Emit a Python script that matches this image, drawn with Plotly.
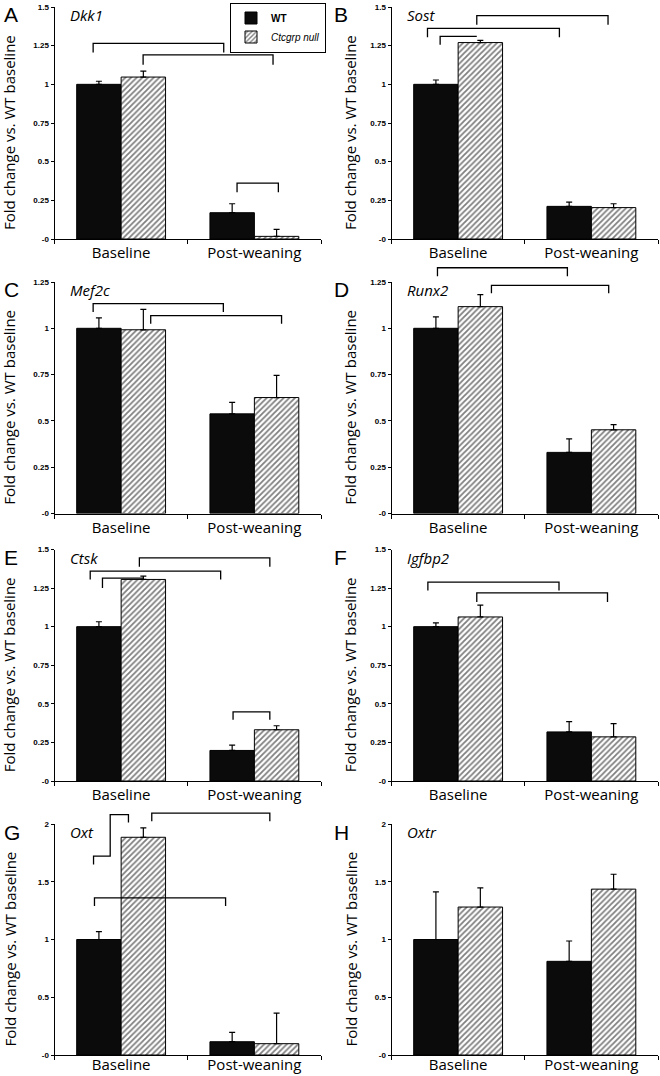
import plotly.graph_objects as go

# ---------------- data ----------------
groups = ["Baseline", "Post-weaning"]
panel_letters = ["A", "B", "C", "D", "E", "F", "G", "H"]
genes = ["Dkk1", "Sost", "Mef2c", "Runx2", "Ctsk", "Igfbp2", "Oxt", "Oxtr"]
series_names = ["<b>WT</b>", "<i>Ctcgrp null</i>"]

dkk1_wt = [1.00, 0.17];    dkk1_wt_err = [0.02, 0.058]
dkk1_ko = [1.047, 0.017];  dkk1_ko_err = [0.039, 0.045]
sost_wt = [1.00, 0.211];   sost_wt_err = [0.028, 0.028]
sost_ko = [1.27, 0.203];   sost_ko_err = [0.014, 0.025]
mef2c_wt = [1.00, 0.538];  mef2c_wt_err = [0.056, 0.062]
mef2c_ko = [0.992, 0.626]; mef2c_ko_err = [0.11, 0.12]
runx2_wt = [1.00, 0.33];   runx2_wt_err = [0.062, 0.073]
runx2_ko = [1.117, 0.452]; runx2_ko_err = [0.065, 0.028]
ctsk_wt = [1.00, 0.198];   ctsk_wt_err = [0.032, 0.035]
ctsk_ko = [1.306, 0.332];  ctsk_ko_err = [0.022, 0.026]
igfbp2_wt = [1.00, 0.318]; igfbp2_wt_err = [0.025, 0.067]
igfbp2_ko = [1.063, 0.286]; igfbp2_ko_err = [0.077, 0.086]
oxt_wt = [1.00, 0.115];    oxt_wt_err = [0.068, 0.081]
oxt_ko = [1.885, 0.098];   oxt_ko_err = [0.081, 0.265]
oxtr_wt = [1.00, 0.811];   oxtr_wt_err = [0.413, 0.176]
oxtr_ko = [1.281, 1.436];  oxtr_ko_err = [0.166, 0.129]

wt_means = [dkk1_wt, sost_wt, mef2c_wt, runx2_wt, ctsk_wt, igfbp2_wt, oxt_wt, oxtr_wt]
wt_errs = [dkk1_wt_err, sost_wt_err, mef2c_wt_err, runx2_wt_err, ctsk_wt_err, igfbp2_wt_err, oxt_wt_err, oxtr_wt_err]
ko_means = [dkk1_ko, sost_ko, mef2c_ko, runx2_ko, ctsk_ko, igfbp2_ko, oxt_ko, oxtr_ko]
ko_errs = [dkk1_ko_err, sost_ko_err, mef2c_ko_err, runx2_ko_err, ctsk_ko_err, igfbp2_ko_err, oxt_ko_err, oxtr_ko_err]

y_max = [1.5, 1.5, 1.25, 1.25, 1.5, 1.5, 2.0, 2.0]
tick_vals_a = [0, 0.25, 0.5, 0.75, 1, 1.25, 1.5]
tick_text_a = ["-0", "0.25", "0.5", "0.75", "1", "1.25", "1.5"]
tick_vals_b = [0, 0.5, 1, 1.5, 2]
tick_text_b = ["-0", "0.5", "1", "1.5", "2"]

# significance brackets: polylines of (category position, value)
def bracket(x0, x1, y, yl, yr):
    return [(x0, yl), (x0, y), (x1, y), (x1, yr)]

brackets = [
    [bracket(-0.21, 0.77, 1.265, 1.206, 1.206), bracket(0.165, 1.14, 1.191, 1.127, 1.127),
     bracket(0.87, 1.18, 0.361, 0.303, 0.303)],
    [bracket(-0.23, 0.76, 1.362, 1.304, 1.304), bracket(0.14, 1.125, 1.444, 1.386, 1.386),
     bracket(-0.135, 0.14, 1.31, 1.256, 1.31)],
    [bracket(-0.21, 0.767, 1.133, 1.088, 1.088), bracket(0.222, 1.204, 1.068, 1.025, 1.025)],
    [bracket(-0.155, 0.82, 1.327, 1.281, 1.281), bracket(0.25, 1.13, 1.232, 1.189, 1.189)],
    [bracket(-0.232, 0.747, 1.36, 1.306, 1.306), bracket(0.137, 1.116, 1.446, 1.388, 1.388),
     bracket(-0.14, 0.17, 1.315, 1.25, 1.315), bracket(0.84, 1.116, 0.448, 0.397, 0.397)],
    [bracket(-0.227, 0.757, 1.288, 1.234, 1.234), bracket(0.14, 1.121, 1.219, 1.16, 1.16)],
    [bracket(-0.2, 0.784, 1.361, 1.289, 1.289), bracket(0.23, 1.116, 2.095, 2.023, 2.023),
     [(-0.207, 1.649), (-0.207, 1.721), (-0.082, 1.721), (-0.082, 2.081), (0.055, 2.081), (0.055, 2.014)]],
    [],
]

# ---------------- layout geometry (pixels) ----------------
W, H = 660, 1076
col_x = [(54.5, 321.0), (391.5, 658.0)]
row_y = [(7.0, 239.0), (282.0, 513.5), (549.5, 781.0), (824.0, 1055.0)]
row_label_standoff = [0, 0, 0, -4]

fig = go.Figure()
layout = dict(
    width=W, height=H, margin=dict(l=0, r=0, t=0, b=0, autoexpand=False),
    paper_bgcolor="white", plot_bgcolor="white",
    barmode="group", bargap=0.333, bargroupgap=0,
    showlegend=True,
    legend=dict(x=230 / W, y=1 - 2.5 / H, xanchor="left", yanchor="top",
                bordercolor="black", borderwidth=1, bgcolor="white",
                font=dict(family="Liberation Sans", size=10, color="black"),
                tracegroupgap=0, itemwidth=30),
)
annotations = []
shapes = []

for i in range(8):
    r, c = divmod(i, 2)
    sfx = "" if i == 0 else str(i + 1)
    xa, ya = "x" + sfx, "y" + sfx
    x0, x1 = col_x[c]
    top, bot = row_y[r]

    fig.add_trace(go.Bar(
        x=groups, y=wt_means[i], name=series_names[0], legendgroup="wt",
        showlegend=(i == 0), xaxis=xa, yaxis=ya,
        marker=dict(color="#0b0b0b", line=dict(color="black", width=1)),
        error_y=dict(type="data", array=wt_errs[i], arrayminus=[0, 0], symmetric=False,
                     color="black", thickness=1.2, width=3),
    ))
    fig.add_trace(go.Bar(
        x=groups, y=ko_means[i], name=series_names[1], legendgroup="ko",
        showlegend=(i == 0), xaxis=xa, yaxis=ya,
        marker=dict(color="white", line=dict(color="black", width=1),
                    pattern=dict(shape="/", fgcolor="black", bgcolor="white", size=4, solidity=0.45)),
        error_y=dict(type="data", array=ko_errs[i], arrayminus=[0, 0], symmetric=False,
                     color="black", thickness=1.2, width=3),
    ))

    tv, tt = (tick_vals_b, tick_text_b) if y_max[i] == 2.0 else (tick_vals_a, tick_text_a)
    tv = [v for v in tv if v <= y_max[i] + 1e-9]
    tt = tt[:len(tv)]

    layout["xaxis" + sfx] = dict(
        domain=[x0 / W, x1 / W], anchor=ya, type="category", automargin=False,
        categoryorder="array", categoryarray=groups, range=[-0.5, 1.5],
        showline=True, linecolor="black", linewidth=1, mirror=False,
        ticks="outside", tickson="boundaries", ticklen=4, tickcolor="black",
        ticklabelstandoff=row_label_standoff[r],
        tickfont=dict(family="Open Sans", size=15, color="black"),
        showgrid=False, zeroline=False, fixedrange=True,
    )
    layout["yaxis" + sfx] = dict(
        domain=[1 - bot / H, 1 - top / H], anchor=xa, range=[0, y_max[i]], automargin=False,
        tickvals=tv, ticktext=tt, ticks="outside", ticklen=3, tickcolor="black",
        tickfont=dict(family="Liberation Sans", size=8, color="black", weight="bold"),
        showline=True, linecolor="black", linewidth=1,
        showgrid=False, zeroline=False, fixedrange=True,
    )

    # panel letter
    annotations.append(dict(
        text=panel_letters[i], xref="paper", yref="paper",
        x=(2 if c == 0 else 332) / W, y=1 - (top + 8) / H,
        xanchor="left", yanchor="middle", showarrow=False,
        font=dict(family="Liberation Sans", size=21, color="black")))
    # gene title
    annotations.append(dict(
        text="<i>%s</i>" % genes[i], xref="paper", yref="paper",
        x=(x0 + 13.5) / W, y=1 - (top + 8) / H,
        xanchor="left", yanchor="middle", showarrow=False,
        font=dict(family="Open Sans", size=15, color="black")))
    # y axis title
    annotations.append(dict(
        text="Fold change vs. WT baseline", xref="paper", yref="paper",
        x=(9 if c == 0 else 350) / W, y=1 - ((top + bot) / 2 + 10) / H,
        xanchor="center", yanchor="middle", textangle=-90, showarrow=False,
        font=dict(family="Open Sans", size=15, color="black")))

    # brackets
    for pts in brackets[i]:
        path = "M " + " L ".join("%g,%g" % (px, py / y_max[i]) for px, py in pts)
        shapes.append(dict(type="path", path=path, xref=xa, yref=ya + " domain",
                           line=dict(color="black", width=1.3)))

layout["annotations"] = annotations
layout["shapes"] = shapes
fig.update_layout(**layout)
fig.write_html("out.html", config={"displayModeBar": False, "staticPlot": True},
               post_script="document.body.style.margin='0';document.body.style.overflow='hidden';")
